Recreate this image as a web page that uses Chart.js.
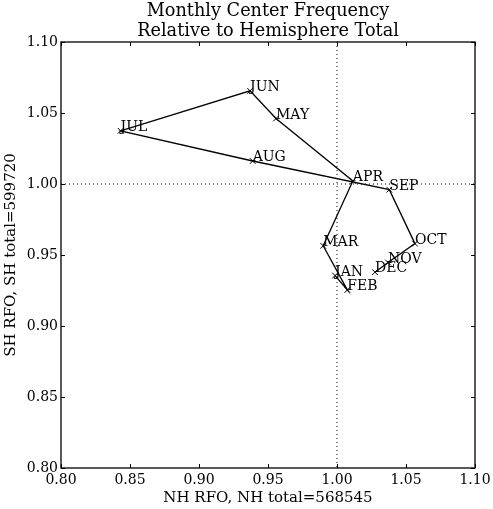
<!DOCTYPE html>
<html>
<head>
<meta charset="utf-8">
<script src="https://cdn.jsdelivr.net/npm/chart.js@4/dist/chart.umd.min.js"></script>
<style>
    html, body { margin: 0; padding: 0; background: #fff; }
    #wrap { width: 493px; height: 509px; }
</style>
</head>
<body>
<div id="wrap"><canvas id="chart"></canvas></div>
<script>
// Data
const months = ['JAN', 'FEB', 'MAR', 'APR', 'MAY', 'JUN', 'JUL', 'AUG', 'SEP', 'OCT', 'NOV', 'DEC'];
const nhRfo = [0.9986, 1.0075, 0.990, 1.0115, 0.9558, 0.937, 0.8432, 0.9389, 1.0379, 1.0565, 1.037, 1.0275];
const shRfo = [0.9355, 0.9254, 0.9565, 1.0021, 1.0461, 1.0656, 1.0374, 1.0162, 0.996, 0.958, 0.9447, 0.9379];
const titleLines = ['Monthly Center Frequency', 'Relative to Hemisphere Total'];
const xTitle = 'NH RFO, NH total=568545';
const yTitle = 'SH RFO, SH total=599720';
const axisMin = 0.80;
const axisMax = 1.10;
const axisStep = 0.05;
const refValue = 1.0;

const serif = "'DejaVu Serif', 'Liberation Serif', serif";

const points = months.map((m, i) => ({ x: nhRfo[i], y: shRfo[i] }));

// Frame, inward ticks, reference lines, month labels and title
const decorPlugin = {
    id: 'decor',
    beforeDatasetsDraw(chart) {
        const { ctx, chartArea: a, scales } = chart;
        const rx = scales.x.getPixelForValue(refValue);
        const ry = scales.y.getPixelForValue(refValue);
        ctx.save();
        ctx.strokeStyle = '#000';
        ctx.lineWidth = 1;
        ctx.setLineDash([1, 3]);
        ctx.beginPath();
        ctx.moveTo(rx, a.top);
        ctx.lineTo(rx, a.bottom);
        ctx.moveTo(a.left, ry);
        ctx.lineTo(a.right, ry);
        ctx.stroke();
        ctx.restore();
    },
    afterDatasetsDraw(chart) {
        const { ctx, chartArea: a, scales } = chart;
        ctx.save();
        ctx.strokeStyle = '#000';
        ctx.lineWidth = 1;

        const tickLen = 4;
        ctx.beginPath();
        scales.x.ticks.forEach(t => {
            const px = Math.round(scales.x.getPixelForValue(t.value)) + 0.5;
            ctx.moveTo(px, a.bottom);
            ctx.lineTo(px, a.bottom - tickLen);
            ctx.moveTo(px, a.top);
            ctx.lineTo(px, a.top + tickLen);
        });
        scales.y.ticks.forEach(t => {
            const py = Math.round(scales.y.getPixelForValue(t.value)) + 0.5;
            ctx.moveTo(a.left, py);
            ctx.lineTo(a.left + tickLen, py);
            ctx.moveTo(a.right, py);
            ctx.lineTo(a.right - tickLen, py);
        });
        ctx.stroke();

        ctx.lineWidth = 1.3;
        ctx.strokeRect(a.left, a.top, a.right - a.left, a.bottom - a.top);

        // month labels, baseline at the point
        const meta = chart.getDatasetMeta(0);
        ctx.fillStyle = '#000';
        ctx.font = '14px ' + serif;
        ctx.textAlign = 'left';
        ctx.textBaseline = 'alphabetic';
        meta.data.forEach((el, i) => {
            ctx.fillText(months[i], el.x, el.y);
        });

        // title centred over the plot area
        ctx.font = '17.7px ' + serif;
        ctx.textAlign = 'center';
        ctx.textBaseline = 'alphabetic';
        const cx = (a.left + a.right) / 2;
        ctx.fillText(titleLines[0], cx, 16);
        ctx.fillText(titleLines[1], cx, 36);
        ctx.restore();
    }
};

const tickFont = { family: serif, size: 14 };
const labelFont = { family: serif, size: 15 };

const chart = new Chart(document.getElementById('chart'), {
    type: 'scatter',
    data: {
        datasets: [{
            data: points,
            showLine: true,
            borderColor: '#000',
            borderWidth: 1.3,
            pointStyle: 'crossRot',
            pointRadius: 4,
            pointBorderColor: '#000',
            pointBorderWidth: 1,
            pointBackgroundColor: '#000'
        }]
    },
    options: {
        responsive: true,
        maintainAspectRatio: false,
        animation: false,
        layout: { padding: { top: 42, right: 18, left: 0, bottom: 0 } },
        plugins: {
            legend: { display: false },
            tooltip: { enabled: false },
            title: { display: false }
        },
        scales: {
            x: {
                type: 'linear',
                min: axisMin,
                max: axisMax,
                grid: { display: false, drawTicks: false },
                border: { display: false },
                ticks: {
                    stepSize: axisStep,
                    color: '#000',
                    font: tickFont,
                    padding: 4,
                    maxRotation: 0,
                    callback: v => v.toFixed(2)
                },
                title: {
                    display: true,
                    text: xTitle,
                    color: '#000',
                    font: labelFont,
                    padding: { top: 1, bottom: 2 }
                },
                afterFit(scale) {
                    scale.height = 41;
                    scale.paddingLeft = 0;
                    scale.paddingRight = 0;
                }
            },
            y: {
                type: 'linear',
                min: axisMin,
                max: axisMax,
                grid: { display: false, drawTicks: false },
                border: { display: false },
                ticks: {
                    stepSize: axisStep,
                    color: '#000',
                    font: tickFont,
                    padding: 3,
                    callback: v => v.toFixed(2)
                },
                title: {
                    display: true,
                    text: yTitle,
                    color: '#000',
                    font: labelFont,
                    padding: { top: 2, bottom: 3 }
                },
                afterFit(scale) {
                    scale.width = 61;
                    scale.paddingTop = 0;
                    scale.paddingBottom = 0;
                }
            }
        }
    },
    plugins: [decorPlugin]
});
</script>
</body>
</html>
